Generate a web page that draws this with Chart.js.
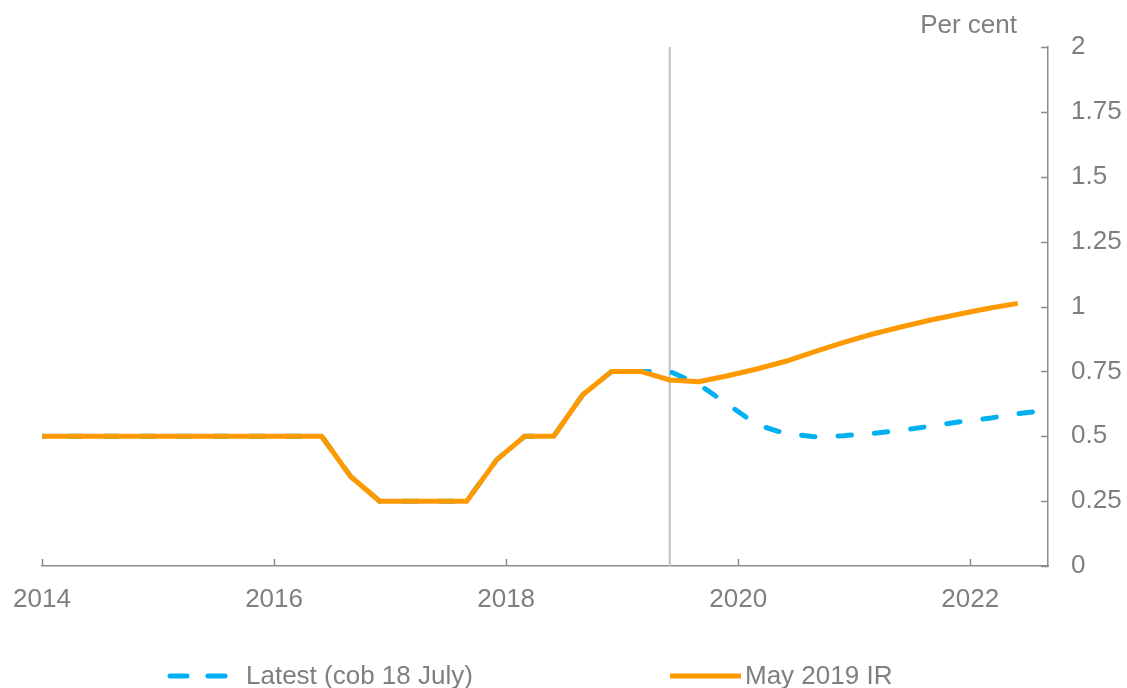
<!DOCTYPE html>
<html>
<head>
<meta charset="utf-8">
<script src="https://cdn.jsdelivr.net/npm/chart.js@4.4.1/dist/chart.umd.min.js"></script>
<style>
  html, body { margin: 0; padding: 0; background: #ffffff; }
  #wrap { width: 1127px; height: 688px; position: relative; }
</style>
</head>
<body>
<div id="wrap"><canvas id="c" width="1127" height="688"></canvas></div>
<script>
// ---- data ----
const dates = [2013.91, 2014.16, 2014.41, 2014.66, 2014.91, 2015.16, 2015.41, 2015.66, 2015.91,
  2016.16, 2016.41, 2016.66, 2016.91, 2017.16, 2017.41, 2017.66, 2017.92, 2018.16, 2018.41,
  2018.66, 2018.91, 2019.16, 2019.41, 2019.66, 2019.91, 2020.16, 2020.41, 2020.66, 2020.91,
  2021.16, 2021.41, 2021.66, 2021.91, 2022.16, 2022.41, 2022.66];
const mayIR = [0.5, 0.5, 0.5, 0.5, 0.5, 0.5, 0.5, 0.5, 0.5,
  0.5, 0.5, 0.345, 0.25, 0.25, 0.25, 0.25, 0.41, 0.5, 0.5,
  0.66, 0.75, 0.75, 0.717, 0.71, 0.733, 0.759, 0.789, 0.826, 0.862,
  0.894, 0.922, 0.948, 0.971, 0.993, 1.012, null];
const latest = [0.5, 0.5, 0.5, 0.5, 0.5, 0.5, 0.5, 0.5, 0.5,
  0.5, 0.5, 0.345, 0.25, 0.25, 0.25, 0.25, 0.41, 0.5, 0.5,
  0.66, 0.75, 0.75, 0.75, 0.70, 0.623, 0.545, 0.51, 0.498, 0.502,
  0.511, 0.523, 0.539, 0.556, 0.569, 0.587, 0.60];
const seriesNames = ['Latest (cob 18 July)', 'May 2019 IR'];
const xTicks = [2014, 2016, 2018, 2020, 2022];
const yTicks = [0, 0.25, 0.5, 0.75, 1, 1.25, 1.5, 1.75, 2];
const xMin = 2014, xMax = 2022.67;
const forecastStart = 2019.41;
const unitLabel = 'Per cent';

// ---- styles ----
const FONT = '"Liberation Sans", Arial, sans-serif';
const TEXT = '#7f7f7f';
const AXIS = '#8c8c8c';
const BLUE = '#00B0F0';
const ORANGE = '#FF9900';

const toPts = (arr) => dates.map((d, i) => ({ x: d, y: arr[i] })).filter(p => p.y !== null);

const extras = {
  id: 'extras',
  beforeDatasetsDraw(chart) {
    const { ctx, chartArea, scales } = chart;
    const xs = scales.x;
    const px = xs.getPixelForValue(forecastStart);
    ctx.save();
    ctx.strokeStyle = '#bfbfbf';
    ctx.lineWidth = 2;
    ctx.beginPath();
    ctx.moveTo(px, chartArea.top);
    ctx.lineTo(px, chartArea.bottom);
    ctx.stroke();
    ctx.restore();
  },
  afterDraw(chart) {
    const { ctx, chartArea, scales } = chart;
    const xs = scales.x, ys = scales.y;
    ctx.save();
    // inward tick marks
    ctx.strokeStyle = AXIS;
    ctx.lineWidth = 1.5;
    ctx.beginPath();
    xTicks.forEach(v => {
      const p = Math.round(xs.getPixelForValue(v)) + 0.5;
      ctx.moveTo(p, chartArea.bottom);
      ctx.lineTo(p, chartArea.bottom - 7);
    });
    yTicks.forEach(v => {
      const p = Math.round(ys.getPixelForValue(v)) + 0.5;
      ctx.moveTo(chartArea.right, p);
      ctx.lineTo(chartArea.right - 7, p);
    });
    ctx.stroke();

    // unit label
    ctx.fillStyle = TEXT;
    ctx.font = '26px ' + FONT;
    ctx.textAlign = 'right';
    ctx.textBaseline = 'middle';
    ctx.fillText(unitLabel, 1017, 26);

    // legend
    const ly = 676;
    ctx.lineWidth = 5;
    ctx.lineCap = 'round';
    ctx.strokeStyle = BLUE;
    ctx.setLineDash([17, 21]);
    ctx.beginPath();
    ctx.moveTo(170, ly);
    ctx.lineTo(228, ly);
    ctx.stroke();
    ctx.setLineDash([]);
    ctx.lineCap = 'butt';
    ctx.strokeStyle = ORANGE;
    ctx.beginPath();
    ctx.moveTo(670, ly);
    ctx.lineTo(741, ly);
    ctx.stroke();
    ctx.textAlign = 'left';
    ctx.fillText(seriesNames[0], 246, ly + 1);
    ctx.fillText(seriesNames[1], 745, ly + 1);
    ctx.restore();
  }
};

new Chart(document.getElementById('c'), {
  type: 'line',
  data: {
    datasets: [
      {
        label: seriesNames[0],
        data: toPts(latest),
        borderColor: BLUE,
        borderWidth: 5,
        borderDash: [13.5, 23],
        borderCapStyle: 'round',
        pointRadius: 0,
        tension: 0,
        fill: false,
        order: 2
      },
      {
        label: seriesNames[1],
        data: toPts(mayIR),
        borderColor: ORANGE,
        borderWidth: 5,
        borderJoinStyle: 'miter',
        pointRadius: 0,
        tension: 0,
        fill: false,
        order: 1
      }
    ]
  },
  options: {
    responsive: false,
    animation: false,
    layout: { padding: { left: 42, top: 47, right: 0, bottom: 0 } },
    plugins: { legend: { display: false }, tooltip: { enabled: false } },
    scales: {
      x: {
        type: 'linear',
        min: xMin,
        max: xMax,
        afterBuildTicks: (s) => { s.ticks = xTicks.map(v => ({ value: v })); },
        afterFit: (s) => { s.height = 122; },
        grid: { display: false },
        border: { display: true, color: AXIS, width: 1.5 },
        ticks: {
          color: TEXT,
          font: { family: FONT, size: 26 },
          padding: 10,
          maxRotation: 0,
          autoSkip: false,
          callback: (v) => String(v)
        }
      },
      y: {
        position: 'right',
        min: 0,
        max: 2,
        afterBuildTicks: (s) => { s.ticks = yTicks.map(v => ({ value: v })); },
        afterFit: (s) => { s.width = 79; },
        grid: { display: false },
        border: { display: true, color: AXIS, width: 1.5 },
        ticks: {
          color: TEXT,
          font: { family: FONT, size: 26 },
          padding: 15,
          autoSkip: false,
          callback: (v) => String(v)
        }
      }
    }
  },
  plugins: [extras]
});
</script>
</body>
</html>
